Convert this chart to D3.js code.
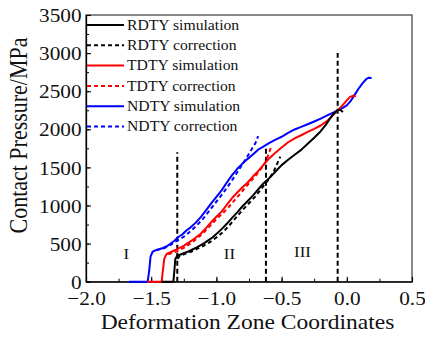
<!DOCTYPE html>
<html>
<head>
<meta charset="utf-8">
<script src="https://cdn.jsdelivr.net/npm/d3@7"></script>
<style>
  html, body { margin: 0; padding: 0; background: #fff; }
  svg { display: block; }
</style>
</head>
<body>
<svg id="chart" width="425" height="338"></svg>
<script>
// Contact pressure along the deformation zone for three tube variants

const xTicks = [-2.0, -1.5, -1.0, -0.5, 0.0, 0.5];
const yTicks = [0, 500, 1000, 1500, 2000, 2500, 3000, 3500];

const seriesNames = ["RDTY simulation", "RDTY correction", "TDTY simulation",
                     "TDTY correction", "NDTY simulation", "NDTY correction"];

// [coordinate, pressure MPa]
const ndtySim = [[-1.67,0],[-1.527,0],[-1.515,150],[-1.505,330],[-1.49,390],[-1.47,410],[-1.44,425],
  [-1.41,442],[-1.38,465],[-1.35,502],[-1.32,540],[-1.29,590],[-1.26,622],[-1.23,672],[-1.2,710],
  [-1.16,772],[-1.12,848],[-1.08,935],[-1.04,1028],[-1.0,1112],[-0.96,1198],[-0.92,1302],[-0.88,1398],
  [-0.84,1482],[-0.8,1550],[-0.76,1612],[-0.72,1668],[-0.68,1732],[-0.64,1772],[-0.6,1815],[-0.55,1862],
  [-0.5,1902],[-0.45,1952],[-0.4,1998],[-0.35,2032],[-0.3,2066],[-0.25,2102],[-0.2,2140],[-0.15,2182],
  [-0.1,2222],[-0.065,2255],[-0.03,2282],[0.0,2315],[0.03,2372],[0.06,2452],[0.09,2532],[0.12,2602],
  [0.15,2660],[0.165,2676],[0.19,2672]];
const ndtyCorr = [[-1.46,415],[-1.4,440],[-1.35,485],[-1.3,540],[-1.25,590],[-1.2,660],[-1.15,740],
  [-1.1,830],[-1.05,940],[-1.0,1050],[-0.95,1160],[-0.9,1280],[-0.85,1410],[-0.8,1540],[-0.75,1680],
  [-0.7,1820],[-0.68,1910]];

const tdtySim = [[-1.53,0],[-1.42,0],[-1.41,150],[-1.4,300],[-1.385,355],[-1.37,375],[-1.34,396],
  [-1.31,420],[-1.28,446],[-1.25,470],[-1.22,506],[-1.19,540],[-1.16,576],[-1.12,630],[-1.08,702],
  [-1.04,780],[-1.0,852],[-0.96,920],[-0.92,1010],[-0.88,1098],[-0.84,1170],[-0.8,1240],[-0.76,1302],
  [-0.72,1380],[-0.68,1450],[-0.64,1530],[-0.6,1610],[-0.55,1690],[-0.5,1760],[-0.45,1830],[-0.4,1880],
  [-0.35,1922],[-0.3,1965],[-0.25,2006],[-0.2,2050],[-0.15,2110],[-0.12,2160],[-0.09,2215],[-0.065,2255],
  [-0.03,2320],[0.0,2380],[0.025,2425],[0.05,2440],[0.07,2432]];
const tdtyCorr = [[-1.37,360],[-1.3,400],[-1.25,445],[-1.2,500],[-1.15,565],[-1.1,640],[-1.05,730],
  [-1.0,820],[-0.95,900],[-0.9,990],[-0.85,1090],[-0.8,1190],[-0.75,1290],[-0.7,1390],[-0.65,1500],
  [-0.62,1580],[-0.58,1770]];

const rdtySim = [[-1.42,0],[-1.33,0],[-1.322,150],[-1.315,300],[-1.3,340],[-1.27,360],[-1.24,381],
  [-1.21,400],[-1.18,426],[-1.15,450],[-1.12,481],[-1.09,510],[-1.06,546],[-1.03,580],[-1.0,626],
  [-0.96,690],[-0.92,760],[-0.88,838],[-0.84,910],[-0.8,990],[-0.76,1060],[-0.72,1130],[-0.68,1210],
  [-0.64,1290],[-0.6,1350],[-0.55,1440],[-0.5,1530],[-0.45,1600],[-0.4,1665],[-0.35,1730],[-0.3,1810],
  [-0.25,1890],[-0.2,1975],[-0.16,2060],[-0.13,2140],[-0.1,2205],[-0.075,2245],[-0.06,2258],
  [-0.045,2250],[-0.03,2225]];
const rdtyCorr = [[-1.3,300],[-1.28,340],[-1.25,360],[-1.2,390],[-1.15,430],[-1.1,470],[-1.05,520],
  [-1.0,580],[-0.95,650],[-0.9,740],[-0.85,840],[-0.8,940],[-0.75,1030],[-0.7,1120],[-0.65,1230],
  [-0.6,1340],[-0.56,1450],[-0.51,1640]];

// zone boundaries (coordinate, top of the marker line in MPa) and zone names
const boundaryX = [-1.3, -0.62, -0.07];
const boundaryTop = [1700, 1780, 3000];
const zoneNames = ["I", "II", "III"];
const zoneX = [-1.69, -0.9, -0.34];
const zoneY = [300, 300, 320];

const svg = d3.select("#chart");
const margin = { left: 86, top: 15, right: 13, bottom: 56.3 };
const W = 425 - margin.left - margin.right;
const H = 338 - margin.top - margin.bottom;
const FONT = "'Liberation Serif', 'Times New Roman', serif";
const SX = 1.12; // horizontal glyph stretch

const x = d3.scaleLinear().domain([-2.0, 0.5]).range([0, W]);
const y = d3.scaleLinear().domain([0, 3500]).range([H, 0]);

const g = svg.append("g").attr("transform", `translate(${margin.left},${margin.top})`);

// frame
g.append("rect").attr("x", 0).attr("y", 0).attr("width", W).attr("height", H)
  .attr("fill", "none").attr("stroke", "#3a3a3a").attr("stroke-width", 1.2);

// minor ticks
g.append("g").attr("transform", `translate(0,${H})`)
  .call(d3.axisBottom(x).tickValues(d3.range(-2.0, 0.51, 0.25)).tickSizeInner(-3).tickSizeOuter(0).tickFormat(""))
  .call(s => s.select(".domain").remove())
  .call(s => s.selectAll("line").attr("stroke", "#000").attr("stroke-width", 1));
g.append("g")
  .call(d3.axisLeft(y).tickValues(d3.range(0, 3501, 250)).tickSizeInner(-3).tickSizeOuter(0).tickFormat(""))
  .call(s => s.select(".domain").remove())
  .call(s => s.selectAll("line").attr("stroke", "#000").attr("stroke-width", 1));

// major axes
const xAxis = g.append("g").attr("transform", `translate(0,${H})`)
  .call(d3.axisBottom(x).tickValues(xTicks).tickFormat(d3.format(".1f"))
    .tickSizeInner(-5).tickSizeOuter(0).tickPadding(10));
const yAxis = g.append("g")
  .call(d3.axisLeft(y).tickValues(yTicks).tickFormat(d3.format("d"))
    .tickSizeInner(-5).tickSizeOuter(0).tickPadding(4));

[xAxis, yAxis].forEach(a => {
  a.select(".domain").attr("stroke", "#000").attr("stroke-width", 1.3);
  a.selectAll(".tick line").attr("stroke", "#000").attr("stroke-width", 1.1);
  a.selectAll(".tick text")
    .attr("font-family", FONT).attr("font-size", 19).attr("fill", "#111")
    .attr("transform", `scale(${SX},1)`);
});
yAxis.selectAll(".tick text").attr("dy", "0.35em");

// zone boundaries
boundaryX.forEach((bx, i) => {
  g.append("line")
    .attr("x1", x(bx)).attr("x2", x(bx))
    .attr("y1", y(0)).attr("y2", y(boundaryTop[i]))
    .attr("stroke", "#000").attr("stroke-width", 2).attr("stroke-dasharray", "5,3");
});

// zone names
zoneNames.forEach((t, i) => {
  g.append("text")
    .attr("transform", `translate(${x(zoneX[i])},${y(zoneY[i])}) scale(${SX},1)`)
    .attr("text-anchor", "middle")
    .attr("font-family", FONT).attr("font-size", 15).attr("fill", "#111")
    .text(t);
});

// curves
const line = d3.line().x(d => x(d[0])).y(d => y(d[1]));
const curves = [
  { data: ndtySim,  color: "#0000ff", dash: null },
  { data: tdtySim,  color: "#ff0000", dash: null },
  { data: rdtySim,  color: "#000000", dash: null },
  { data: ndtyCorr, color: "#0000ff", dash: "4,3" },
  { data: tdtyCorr, color: "#ff0000", dash: "4,3" },
  { data: rdtyCorr, color: "#000000", dash: "4,3" }
];
curves.forEach(c => {
  g.append("path").datum(c.data)
    .attr("d", line)
    .attr("fill", "none")
    .attr("stroke", c.color)
    .attr("stroke-width", 2)
    .attr("stroke-linejoin", "round")
    .attr("stroke-dasharray", c.dash);
});

// legend
const legendColors = ["#000000", "#000000", "#ff0000", "#ff0000", "#0000ff", "#0000ff"];
const legend = svg.append("g");
seriesNames.forEach((name, i) => {
  const ly = 25 + i * 20.3;
  legend.append("line")
    .attr("x1", 87).attr("x2", 124).attr("y1", ly).attr("y2", ly)
    .attr("stroke", legendColors[i]).attr("stroke-width", 2)
    .attr("stroke-dasharray", i % 2 === 1 ? "4,3" : null);
  legend.append("text")
    .attr("transform", `translate(127,${ly + 4.6}) scale(${SX},1)`)
    .attr("font-family", FONT).attr("font-size", 14).attr("fill", "#111")
    .text(name);
});

// axis titles
svg.append("text")
  .attr("transform", `translate(${margin.left + W / 2 - 1.5},329) scale(${SX},1)`)
  .attr("text-anchor", "middle")
  .attr("font-family", FONT).attr("font-size", 21).attr("fill", "#111")
  .text("Deformation Zone Coordinates");
svg.append("text")
  .attr("transform", `translate(27,135.5) scale(${SX},1) rotate(-90)`)
  .attr("text-anchor", "middle")
  .attr("font-family", FONT).attr("font-size", 22).attr("fill", "#111")
  .text("Contact Pressure/MPa");
</script>
</body>
</html>
